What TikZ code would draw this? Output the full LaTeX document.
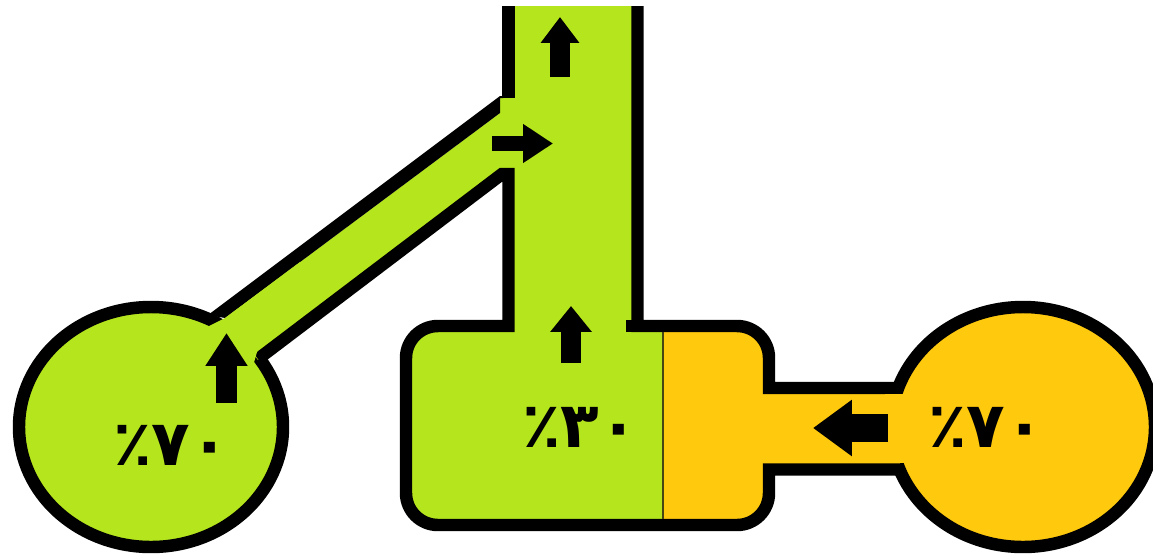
\documentclass[tikz,border=0pt]{standalone}
\usepackage{fontspec}
\usetikzlibrary{arrows.meta}
\newfontfamily\arabicfont[Script=Arabic]{DejaVu Sans Bold}
\TeXXeTstate=1
\definecolor{limefill}{RGB}{181,230,29}
\definecolor{amberfill}{RGB}{255,201,14}
\definecolor{splitline}{RGB}{70,70,20}
\tikzset{
    wall/.style={line width=7.1pt,draw=black,line join=miter},
    pctlabel/.style={inner sep=0pt,font=\arabicfont\fontsize{36}{40}\selectfont},
    flowarrow/.style n args={3}{draw=black,line width=#1,-{Triangle[length=#2,width=#3]}},
}
\begin{document}
\begin{tikzpicture}[x=0.02cm,y=-0.02cm]
    \useasboundingbox (0,0) rectangle (1153,555);

    \coordinate (up1s) at (226.5,403);
    \coordinate (up1e) at (226.5,333);
    \coordinate (up2s) at (560,77);
    \coordinate (up2e) at (560,17);
    \coordinate (up3s) at (571,363);
    \coordinate (up3e) at (571,306);
    \coordinate (side1s) at (492,143.5);
    \coordinate (side1e) at (553,143.5);
    \coordinate (side2s) at (888,428);
    \coordinate (side2e) at (813,428);

    % bulbs
    \filldraw[wall,fill=limefill] (151,427) ellipse [x radius=132, y radius=120];
    \filldraw[wall,fill=amberfill] (1023,427) ellipse [x radius=132, y radius=120];

    % liquid
    \fill[limefill] (225,318) -- (500,113) -- (500,98) -- (508.5,98) -- (508.5,6) -- (637.5,6) -- (637.5,326) -- (663,326)
        -- (663,525) -- (438,525) arc [start angle=90, end angle=180, radius=32]
        -- (406,358) arc [start angle=180, end angle=270, radius=32]
        -- (508.5,326) -- (508.5,172) -- (258,360) -- cycle;
    \fill[amberfill] (663,326) -- (737,326) arc [start angle=270, end angle=360, radius=32]
        -- (769,388) -- (900,388) -- (900,469.5) -- (769,469.5) -- (769,493)
        arc [start angle=0, end angle=90, radius=32] -- (663,525) -- cycle;

    % walls
    \fill[black] (208,315) -- (500,96) -- (503,96) -- (503,98) -- (500,98) -- (500,113) -- (225,318) -- cycle;
    \draw[wall] (508.5,6) -- (508.5,98);
    \draw[wall] (626,326) -- (640,326);
    \draw[wall] (637.5,6) -- (637.5,326) -- (737,326) arc [start angle=270, end angle=360, radius=32]
        -- (769,388) -- (902,388);
    \draw[wall] (902,469.5) -- (769,469.5) -- (769,493) arc [start angle=0, end angle=90, radius=32]
        -- (438,525) arc [start angle=90, end angle=180, radius=32]
        -- (406,358) arc [start angle=180, end angle=270, radius=32]
        -- (508.5,326) -- (508.5,174) -- (502,174) -- (258,359);

    % openings into the bulbs
    \fill[limefill] (209,326) -- (225,318) -- (300,262) -- (257,352) -- (253,366) -- (215,345) -- cycle;
    \fill[amberfill] (885,394) rectangle (915,463);
    \draw[splitline,line width=1.2pt] (663,332) -- (663,519);

    \draw[flowarrow={11.9pt}{18.7pt}{22.7pt}] (up1s) -- (up1e);
    \draw[flowarrow={11.9pt}{14.7pt}{21pt}] (up2s) -- (up2e);
    \draw[flowarrow={11.9pt}{14.7pt}{22.7pt}] (up3s) -- (up3e);
    \draw[flowarrow={8.5pt}{17pt}{21pt}] (side1s) -- (side1e);
    \draw[flowarrow={16.4pt}{22.1pt}{30.6pt}] (side2s) -- (side2e);

    \node[pctlabel] (bulb1) at (171,445) {\beginR\beginL ۷۰\endL ٪\endR};
    \node[pctlabel] (box1) at (580,427) {\beginR\beginL ۳۰\endL ٪\endR};
    \node[pctlabel] (bulb2) at (986,427) {\beginR\beginL ۷۰\endL ٪\endR};
\end{tikzpicture}
\end{document}
